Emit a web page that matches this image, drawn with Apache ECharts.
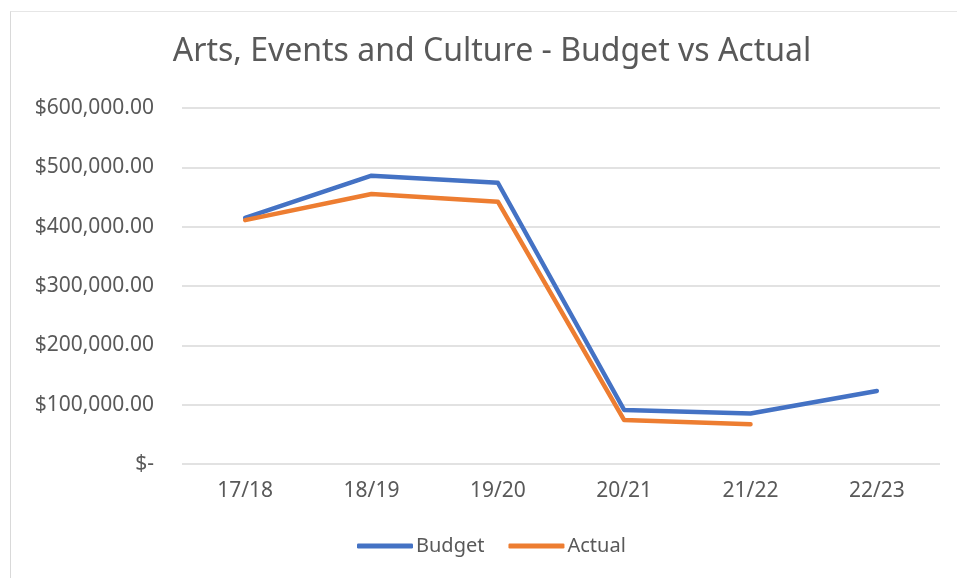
<!DOCTYPE html>
<html>
<head>
<meta charset="utf-8">
<script src="https://cdn.jsdelivr.net/npm/echarts@6/dist/echarts.min.js"></script>
<style>
  html, body { margin: 0; padding: 0; background: #fff; }
  .frame {
    position: absolute; left: 10px; top: 11px; width: 960px; height: 600px;
    border-left: 1px solid #d9d9d9; border-top: 1px solid #e6e6e6;
  }
  #chart { position: absolute; left: 0; top: 0; width: 957px; height: 578px; }
</style>
</head>
<body>
<div class="frame"></div>
<div id="chart"></div>
<script>
const years = ['17/18', '18/19', '19/20', '20/21', '21/22', '22/23']
const budget = [415000, 486000, 474000, 91000, 85000, 123000]
const actual = [411000, 455000, 442000, 74000, 67000, null]

const textColor = '#595959'
const font = 'Noto Sans'

function money(v) {
  if (v === 0) return '$-'
  return '$' + v.toLocaleString('en-US') + '.00'
}

const chart = echarts.init(document.getElementById('chart'))
chart.setOption({
  animation: false,
  title: {
    text: 'Arts, Events and Culture - Budget vs Actual',
    left: 487,
    top: 31,
    textAlign: 'center',
    textStyle: { color: textColor, fontFamily: font, fontSize: 32, fontWeight: 'normal' }
  },
  grid: { left: 182, right: 17, top: 108, bottom: 114 },
  legend: {
    data: ['Budget', 'Actual'],
    bottom: 17,
    left: 352,
    itemWidth: 56,
    itemHeight: 5,
    itemGap: 24,
    icon: 'roundRect',
    textStyle: { color: textColor, fontFamily: font, fontSize: 20, padding: [0, 0, 0, -2] }
  },
  xAxis: {
    type: 'category',
    data: years,
    boundaryGap: true,
    axisLine: { show: false },
    axisTick: { show: false },
    axisLabel: { color: textColor, fontFamily: font, fontSize: 21, margin: 17 }
  },
  yAxis: {
    type: 'value',
    min: 0,
    max: 600000,
    interval: 100000,
    axisLine: { show: false },
    axisTick: { show: false },
    splitLine: { lineStyle: { color: '#d9d9d9', width: 1.5 } },
    axisLabel: { color: textColor, fontFamily: font, fontSize: 21, margin: 28, formatter: money }
  },
  series: [
    {
      name: 'Budget',
      type: 'line',
      data: budget,
      symbol: 'none',
      color: '#4472C4',
      lineStyle: { width: 4.5, cap: 'round', join: 'round' }
    },
    {
      name: 'Actual',
      type: 'line',
      data: actual,
      symbol: 'none',
      color: '#ED7D31',
      lineStyle: { width: 4.5, cap: 'round', join: 'round' }
    }
  ]
})
</script>
</body>
</html>
